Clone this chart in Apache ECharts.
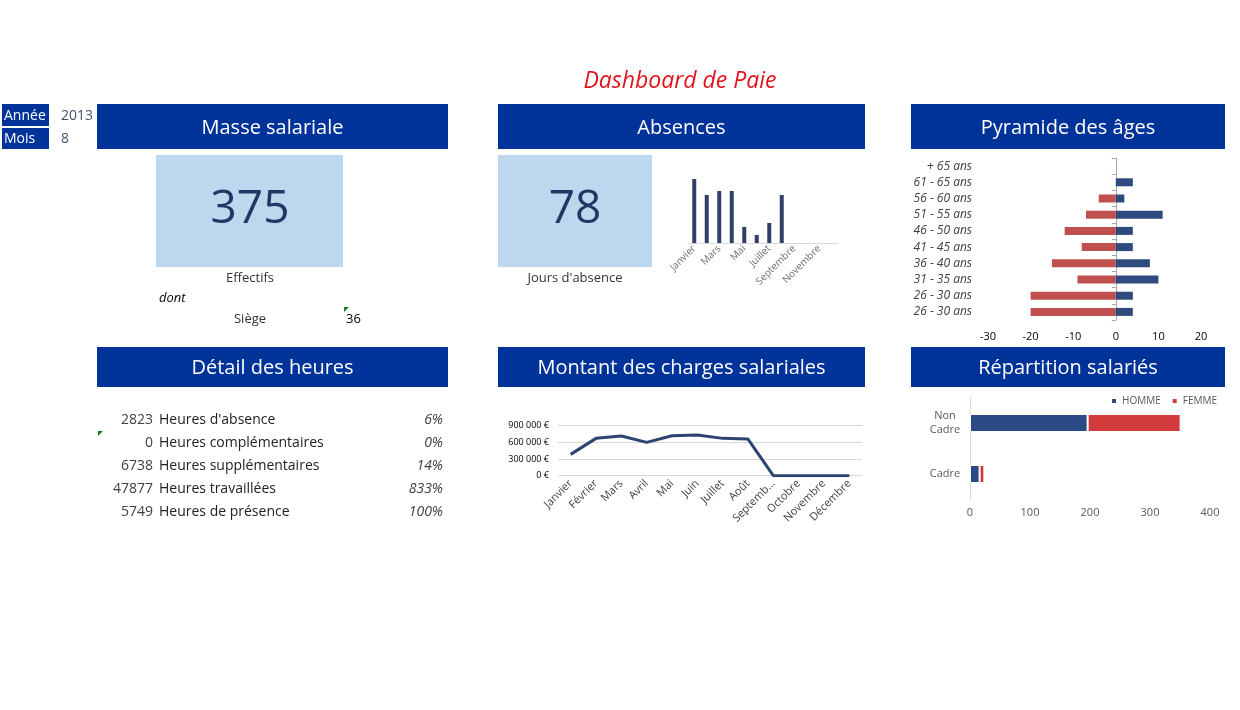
<!DOCTYPE html>
<html>
<head>
<meta charset="utf-8">
<script src="https://cdn.jsdelivr.net/npm/echarts@6/dist/echarts.min.js"></script>
<style>
html,body{margin:0;padding:0;background:#fff;}
#c{width:1240px;height:710px;}
</style>
</head>
<body>
<div id="c"></div>
<script>
// ---- data ----
const months = ['Janvier','Février','Mars','Avril','Mai','Juin','Juillet','Août','Septembre','Octobre','Novembre','Décembre'];
const absenceDays = [16,12,13,13,4,2,5,12,0,0,0,0];
const charges = [384000,672000,714000,600000,720000,732000,672000,660000,0,0,0,0];
const ageGroups = ['26 - 30 ans','26 - 30 ans','31 - 35 ans','36 - 40 ans','41 - 45 ans','46 - 50 ans','51 - 55 ans','56 - 60 ans','61 - 65 ans','+ 65 ans'];
const ageFemmes = [-20,-20,-9,-15,-8,-12,-7,-4,0,0];
const ageHommes = [4,4,10,8,4,4,11,2,4,0];
const statuts = ['Cadre','Non Cadre'];
const statutHommes = [16,196];
const statutFemmes = [8,155];
const hoursValues = [2823,0,6738,47877,5749];
const hoursLabels = ["Heures d'absence",'Heures complémentaires','Heures supplémentaires','Heures travaillées','Heures de présence'];
const hoursPct = ['6%','0%','14%','833%','100%'];
const annee = 2013, mois = 8;
const effectifs = 375, siege = 36, joursAbsence = 78;

// ---- styles ----
const FONT = 'Open Sans';
const HEAD = '#003399';
const KPI_BG = '#BDD7EE';
const KPI_FG = '#1F3864';
const BLUE = '#2E4A7E';
const RED_P = '#C0504D';
const RED_R = '#D13B3B';

function fmtEuro(v){ return String(v).replace(/\B(?=(\d{3})+(?!\d))/g,' ') + ' €'; }

const g = [];
function rect(x,y,w,h,fill){ g.push({type:'rect',shape:{x,y,width:w,height:h},style:{fill},silent:true}); }
function text(t,x,y,o){ o=o||{}; g.push({type:'text',x,y:y+1,silent:true,style:Object.assign({text:t,fontFamily:FONT,fontSize:14,fill:'#333',align:'left',verticalAlign:'middle'},o)}); }
function header(t,x1,x2,y1,y2){ rect(x1,y1,x2-x1,y2-y1,HEAD); text(t,(x1+x2)/2,(y1+y2)/2+0.5,{fill:'#fff',fontSize:20,align:'center'}); }
function tri(x,y){ g.push({type:'polygon',shape:{points:[[x,y],[x+5,y],[x,y+5]]},style:{fill:'#1E7B1E'},silent:true}); }

text('Dashboard de Paie',680,80,{fill:'#E0141E',fontSize:23,fontStyle:'italic',align:'center'});
rect(2,104,47,22,HEAD); text('Année',4,115,{fill:'#fff',fontSize:14});
rect(2,128,47,21,HEAD); text('Mois',4,138.5,{fill:'#fff',fontSize:14});
text(String(annee),61,115,{fill:'#44546A',fontSize:14});
text(String(mois),61,138.5,{fill:'#44546A',fontSize:14});

header('Masse salariale',97,448,104,149);
header('Absences',498,865,104,149);
header('Pyramide des âges',911,1225,104,149);
header('Détail des heures',97,448,347,387);
header('Montant des charges salariales',498,865,347,387);
header('Répartition salariés',911,1225,347,387);

rect(156,155,187,112,KPI_BG);
text(String(effectifs),250,209,{fill:KPI_FG,fontSize:46,align:'center'});
text('Effectifs',250,277,{fontSize:13,align:'center'});
text('dont',159,297,{fontSize:13,fontStyle:'italic',fill:'#000'});
text('Siège',250,318,{fontSize:13,align:'center'});
text(String(siege),346,318,{fontSize:13,fill:'#000'});
tri(344,307);

rect(498,155,154,112,KPI_BG);
text(String(joursAbsence),575,209,{fill:KPI_FG,fontSize:46,align:'center'});
text("Jours d'absence",575,277,{fontSize:13,align:'center'});

hoursValues.forEach((v,i)=>{
  const y = 419 + i*23;
  text(String(v),153,y,{fontSize:14,align:'right',fill:'#404040'});
  text(hoursLabels[i],159,y,{fontSize:14,fill:'#222'});
  text(hoursPct[i],443,y,{fontSize:14,align:'right',fontStyle:'italic',fill:'#404040'});
});
tri(98,431);

const chart = echarts.init(document.getElementById('c'));
chart.setOption({
  animation:false,
  textStyle:{fontFamily:FONT},
  graphic:g,
  legend:{data:['HOMME','FEMME'],right:18,top:391,itemWidth:6,itemHeight:6,itemGap:10,icon:'rect',textStyle:{fontSize:10,color:'#595959',fontFamily:FONT}},
  grid:[
    {left:688,top:179,width:150,height:64},
    {left:988,top:158,width:213,height:162},
    {left:558,top:425.7,width:304,height:50},
    {left:970,top:397.5,width:240,height:102}
  ],
  xAxis:[
    {gridIndex:0,type:'category',data:months,axisLine:{lineStyle:{color:'#D9D9D9'}},axisTick:{show:false},
     axisLabel:{interval:1,rotate:45,fontSize:10,color:'#6F6F6F',margin:4}},
    {gridIndex:1,type:'value',min:-30,max:20,interval:10,splitLine:{show:false},axisLine:{show:false},axisTick:{show:false},
     axisLabel:{fontSize:11,color:'#000',margin:11}},
    {gridIndex:2,type:'category',data:months,axisLine:{lineStyle:{color:'#D9D9D9'}},axisTick:{show:false},
     axisLabel:{interval:0,rotate:45,fontSize:11,color:'#404040',margin:6,formatter:v=>v.length>8?v.slice(0,7)+'...':v}},
    {gridIndex:3,type:'value',min:0,max:400,interval:100,splitLine:{show:false},axisLine:{show:false},axisTick:{show:false},
     axisLabel:{fontSize:11,color:'#595959',margin:8}}
  ],
  yAxis:[
    {gridIndex:0,type:'value',min:0,max:16,show:false},
    {gridIndex:1,type:'category',data:ageGroups,axisLine:{show:false,onZero:false},axisTick:{show:false},
     axisLabel:{fontSize:12,fontStyle:'italic',color:'#404040',margin:16}},
    {gridIndex:1,type:'category',data:ageGroups,position:'left',axisLine:{show:true,onZero:true,lineStyle:{color:'#A6A6A6'}},
     axisTick:{show:true,length:4,lineStyle:{color:'#A6A6A6'}},axisLabel:{show:false}},
    {gridIndex:2,type:'value',min:0,max:900000,interval:300000,splitLine:{lineStyle:{color:'#D9D9D9'}},
     axisLabel:{fontSize:9,color:'#000',margin:9,formatter:fmtEuro}},
    {gridIndex:3,type:'category',data:statuts,axisLine:{lineStyle:{color:'#D9D9D9'}},axisTick:{show:false},
     axisLabel:{fontSize:11,color:'#595959',margin:25,align:'center',lineHeight:14,formatter:v=>v.replace(' ','\n')}}
  ],
  series:[
    {type:'bar',name:'Absences',xAxisIndex:0,yAxisIndex:0,data:absenceDays,barWidth:4,itemStyle:{color:'#2F3F66'}},
    {type:'bar',name:'Femmes âge',xAxisIndex:1,yAxisIndex:1,data:ageFemmes,stack:'age',barWidth:8,itemStyle:{color:RED_P}},
    {type:'bar',name:'Hommes âge',xAxisIndex:1,yAxisIndex:1,data:ageHommes,stack:'age',barWidth:8,itemStyle:{color:BLUE}},
    {type:'line',name:'Charges',xAxisIndex:2,yAxisIndex:3,data:charges,symbol:'none',lineStyle:{color:'#2E4470',width:3}},
    {type:'bar',name:'HOMME',xAxisIndex:3,yAxisIndex:4,data:statutHommes,stack:'s',barWidth:18,itemStyle:{color:'#2B4A86',borderColor:'#fff',borderWidth:1}},
    {type:'bar',name:'FEMME',xAxisIndex:3,yAxisIndex:4,data:statutFemmes,stack:'s',barWidth:18,itemStyle:{color:RED_R,borderColor:'#fff',borderWidth:1}}
  ]
});
</script>
</body>
</html>
